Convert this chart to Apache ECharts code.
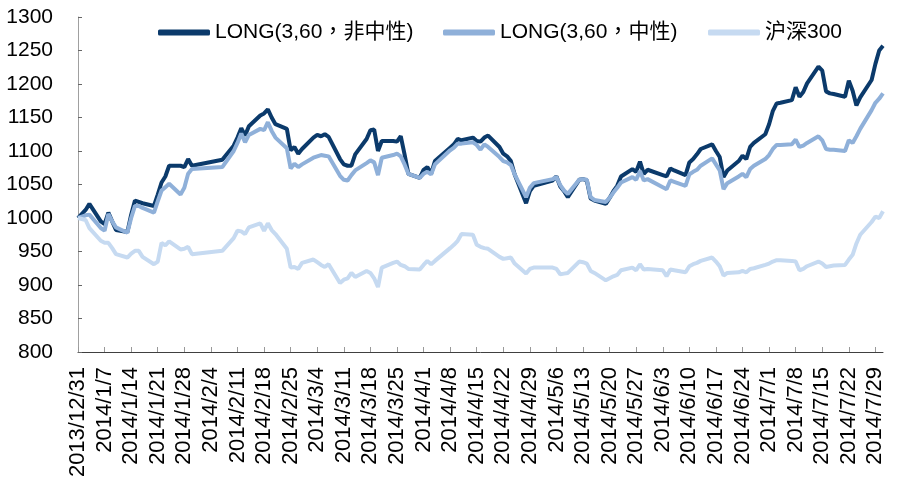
<!DOCTYPE html>
<html>
<head>
<meta charset="utf-8">
<script src="https://cdn.jsdelivr.net/npm/echarts@6/dist/echarts.min.js"></script>
<style>
html,body{margin:0;padding:0;background:#fff;}
#main{width:897px;height:486px;}
</style>
</head>
<body>
<div id="main"></div>
<script>
// Calendar-day category axis (tick every 7 days starting 2013/12/31)
var axisStart = '2013-12-31';
var axisEnd = '2014-07-31';

var seriesNames = ['LONG(3,60，非中性)', 'LONG(3,60，中性)', '沪深300'];

// Trading dates
var tradeDates = [
'2013/12/31','2014/1/2','2014/1/3','2014/1/6','2014/1/7','2014/1/8','2014/1/9','2014/1/10',
'2014/1/13','2014/1/14','2014/1/15','2014/1/16','2014/1/17','2014/1/20','2014/1/21','2014/1/22',
'2014/1/23','2014/1/24','2014/1/27','2014/1/28','2014/1/29','2014/1/30','2014/2/7','2014/2/10',
'2014/2/11','2014/2/12','2014/2/13','2014/2/14','2014/2/17','2014/2/18','2014/2/19','2014/2/20',
'2014/2/21','2014/2/24','2014/2/25','2014/2/26','2014/2/27','2014/2/28','2014/3/3','2014/3/4',
'2014/3/5','2014/3/6','2014/3/7','2014/3/10','2014/3/11','2014/3/12','2014/3/13','2014/3/14',
'2014/3/17','2014/3/18','2014/3/19','2014/3/20','2014/3/21','2014/3/24','2014/3/25','2014/3/26',
'2014/3/27','2014/3/28','2014/3/31','2014/4/1','2014/4/2','2014/4/3','2014/4/4','2014/4/8',
'2014/4/9','2014/4/10','2014/4/11','2014/4/14','2014/4/15','2014/4/16','2014/4/17','2014/4/18',
'2014/4/21','2014/4/22','2014/4/23','2014/4/24','2014/4/25','2014/4/28','2014/4/29','2014/4/30',
'2014/5/5','2014/5/6','2014/5/7','2014/5/8','2014/5/9','2014/5/12','2014/5/13','2014/5/14',
'2014/5/15','2014/5/16','2014/5/19','2014/5/20','2014/5/21','2014/5/22','2014/5/23','2014/5/26',
'2014/5/27','2014/5/28','2014/5/29','2014/5/30','2014/6/3','2014/6/4','2014/6/5','2014/6/6',
'2014/6/9','2014/6/10','2014/6/11','2014/6/12','2014/6/13','2014/6/16','2014/6/17','2014/6/18',
'2014/6/19','2014/6/20','2014/6/23','2014/6/24','2014/6/25','2014/6/26','2014/6/27','2014/6/30',
'2014/7/1','2014/7/2','2014/7/3','2014/7/4','2014/7/7','2014/7/8','2014/7/9','2014/7/10',
'2014/7/11','2014/7/14','2014/7/15','2014/7/16','2014/7/17','2014/7/18','2014/7/21','2014/7/22',
'2014/7/23','2014/7/24','2014/7/25','2014/7/28','2014/7/29','2014/7/30','2014/7/31'
];

var longNonNeutral = [
1000,1012,1021,995,991,1008,995,982,
979,1005,1026,1024,1022,1018,1035,1053,
1062,1078,1078,1076,1088,1078,1087,1108,
1120,1134,1123,1137,1153,1156,1162,1150,
1140,1133,1101,1106,1096,1103,1120,1124,
1122,1125,1121,1088,1080,1078,1078,1095,
1118,1131,1132,1100,1115,1115,1114,1122,
1095,1066,1060,1072,1076,1066,1085,1105,
1110,1118,1116,1120,1115,1114,1120,1123,
1106,1096,1092,1085,1065,1022,1040,1048,
1056,1062,1047,1040,1031,1057,1058,1056,
1029,1026,1021,1030,1040,1048,1062,1073,
1069,1084,1066,1072,1064,1062,1074,1071,
1064,1083,1088,1095,1103,1110,1100,1091,
1061,1071,1085,1093,1088,1106,1112,1125,
1140,1160,1171,1172,1176,1195,1181,1188,
1201,1226,1220,1189,1186,1185,1181,1205,
1190,1168,1180,1206,1230,1250,1257
];

var longNeutral = [
1000,1004,1005,985,981,1006,995,986,
978,1000,1018,1018,1015,1008,1025,1041,
1046,1051,1035,1045,1066,1073,1076,1100,
1112,1126,1113,1124,1133,1131,1143,1130,
1120,1104,1074,1081,1076,1080,1090,1092,
1094,1093,1092,1063,1057,1056,1064,1071,
1082,1086,1083,1064,1090,1094,1096,1092,
1080,1066,1060,1066,1069,1065,1080,1101,
1105,1111,1111,1113,1109,1102,1110,1106,
1091,1085,1083,1079,1065,1031,1045,1052,
1058,1061,1049,1041,1036,1057,1058,1057,
1031,1027,1024,1030,1038,1045,1053,1061,
1057,1070,1056,1058,1046,1043,1056,1054,
1048,1065,1069,1072,1078,1089,1080,1071,
1043,1052,1062,1066,1061,1073,1078,1088,
1094,1103,1109,1109,1110,1117,1106,1108,
1112,1122,1116,1103,1102,1102,1100,1116,
1112,1122,1133,1161,1172,1178,1186
];

var hs300 = [
1000,997,985,966,963,963,955,946,
941,947,951,951,942,931,935,963,
959,965,953,954,957,946,951,970,
981,980,976,986,992,981,992,982,
976,954,926,927,924,933,938,934,
930,927,931,903,908,910,918,912,
921,918,910,897,926,933,935,930,
928,924,923,930,936,931,936,955,
960,966,976,975,960,957,955,954,
942,939,940,941,932,917,924,926,
926,924,916,917,918,935,934,932,
921,918,907,910,913,915,922,926,
922,931,923,924,922,913,923,922,
919,928,931,933,936,941,935,928,
914,918,919,921,919,924,925,930,
932,935,937,937,936,935,922,924,
928,935,932,927,928,929,930,938,
945,962,975,994,1002,1000,1010
];

var yTicks = {min: 800, max: 1300, step: 50};
var colors = ['#0B3A6B', '#8FB0D9', '#C6DAF1'];

// build calendar categories
function fmt(d){return d.getUTCFullYear()+'/'+(d.getUTCMonth()+1)+'/'+d.getUTCDate();}
var calendar = [];
for (var t = Date.parse(axisStart+'T00:00:00Z'); t <= Date.parse(axisEnd+'T00:00:00Z'); t += 86400000) {
  calendar.push(fmt(new Date(t)));
}
function pairs(vals){return tradeDates.map(function(d,i){return [d, vals[i]];});}

var FONT = "'Liberation Sans', Arial, 'Noto Sans CJK TC', sans-serif";
var chart = echarts.init(document.getElementById('main'), null, {renderer:'canvas'});
var legendBase = {
  top: 22, padding: 0, itemWidth: 52, itemHeight: 6, icon: 'roundRect', itemGap: 10,
  textStyle: {fontSize: 21, color: '#000', fontFamily: FONT}
};
var option = {
  animation: false,
  backgroundColor: '#fff',
  color: colors,
  legend: [
    Object.assign({}, legendBase, {left: 158, data: [seriesNames[0]]}),
    Object.assign({}, legendBase, {left: 443, data: [seriesNames[1]]}),
    Object.assign({}, legendBase, {left: 708, data: [seriesNames[2]]})
  ],
  grid: {left: 78, right: 14, top: 17, bottom: 134, containLabel: false},
  xAxis: {
    type: 'category',
    data: calendar,
    boundaryGap: false,
    axisLine: {lineStyle: {color: '#404040', width: 1}},
    axisTick: {show: true, inside: true, length: 5, interval: 6, lineStyle: {color: '#999'}},
    axisLabel: {interval: 6, rotate: 90, margin: 15, fontSize: 22, color: '#000', fontFamily: FONT},
    splitLine: {show: false}
  },
  yAxis: {
    type: 'value',
    min: yTicks.min, max: yTicks.max, interval: yTicks.step,
    axisLine: {show: true, lineStyle: {color: '#A0A0A0', width: 1}},
    axisTick: {show: true, inside: true, length: 4, lineStyle: {color: '#666'}},
    axisLabel: {margin: 25, fontSize: 21, color: '#000', fontFamily: FONT,
      formatter: function(v){return String(v);}},
    splitLine: {show: false}
  },
  series: [
    {name: seriesNames[0], type: 'line', data: pairs(longNonNeutral), showSymbol: false, lineStyle: {width: 4, color: colors[0]}, itemStyle: {color: colors[0]}},
    {name: seriesNames[1], type: 'line', data: pairs(longNeutral), showSymbol: false, lineStyle: {width: 4, color: colors[1]}, itemStyle: {color: colors[1]}},
    {name: seriesNames[2], type: 'line', data: pairs(hs300), showSymbol: false, lineStyle: {width: 4, color: colors[2]}, itemStyle: {color: colors[2]}}
  ]
};
chart.setOption(option);
</script>
</body>
</html>
